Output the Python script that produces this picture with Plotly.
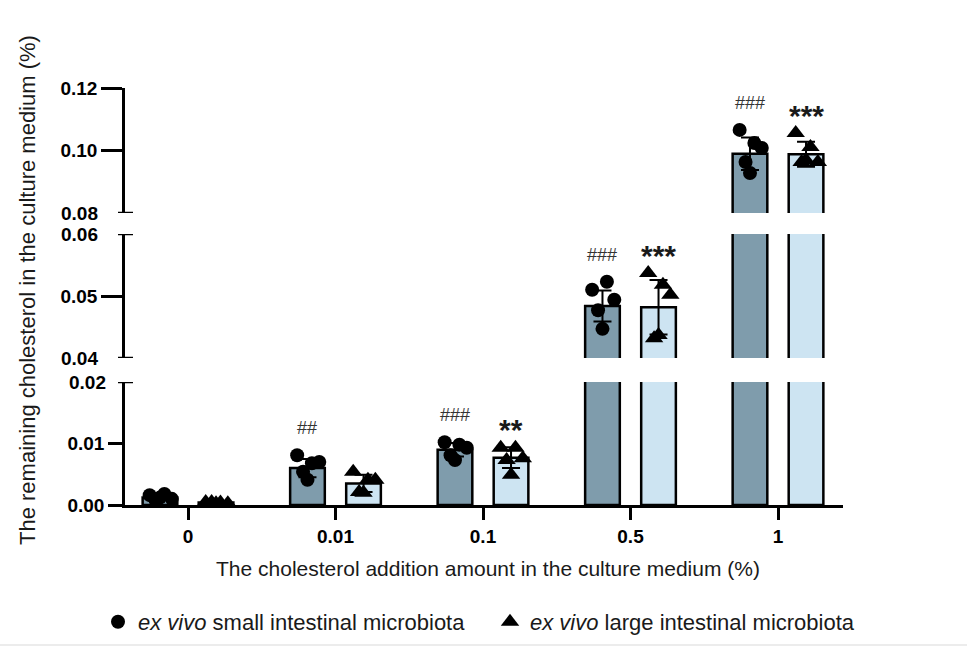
import numpy as np
import plotly.graph_objects as go

# ---------------- data ----------------
categories = ["0", "0.01", "0.1", "0.5", "1"]

small_mean = [0.0012, 0.0060, 0.0090, 0.0484, 0.0990]
small_sd = [0.0004, 0.0015, 0.0011, 0.0025, 0.0052]
large_mean = [0.0004, 0.0035, 0.0077, 0.0482, 0.0988]
large_sd = [0.0001, 0.0014, 0.0017, 0.0044, 0.0040]

small_points = [
    [0.0016, 0.0018, 0.0010, 0.0008, 0.0012],
    [0.0081, 0.0068, 0.0070, 0.0054, 0.0041],
    [0.0102, 0.0098, 0.0093, 0.0081, 0.0073],
    [0.0510, 0.0523, 0.0494, 0.0477, 0.0447],
    [0.1066, 0.1024, 0.1008, 0.0963, 0.0928],
]
large_points = [
    [0.0005, 0.0004, 0.0003, 0.0005, 0.0003],
    [0.0054, 0.0041, 0.0041, 0.0021, 0.0020],
    [0.0093, 0.0093, 0.0076, 0.0073, 0.0049],
    [0.0537, 0.0518, 0.0502, 0.0432, 0.0437],
    [0.1056, 0.1011, 0.0963, 0.0963, 0.0970],
]

small_sig = ["", "##", "###", "###", "###"]
large_sig = ["", "", "**", "***", "***"]

# broken y axis segments (bottom, middle, top)
seg_ranges = [[0.0, 0.02], [0.04, 0.06], [0.08, 0.12]]
seg_ticks = [[0.00, 0.01], [0.05], [0.10, 0.12]]
seg_tick_text = [["0.00", "0.01"], ["0.05"], ["0.10", "0.12"]]
cap_values = [0.02, 0.04, 0.06, 0.08]
cap_text = ["0.02", "0.04", "0.06", "0.08"]

small_name = "<i>ex vivo</i> small intestinal microbiota"
large_name = "<i>ex vivo</i> large intestinal microbiota"

# ---------------- styling ----------------
W, H = 967, 652
ML, MR, MT, MB = 125, 124, 88, 147
PW = W - ML - MR
PH = H - MT - MB
seg_px = [(382, 505), (234, 358), (88, 213)]  # pixel top/bottom of each segment
domains = [[(505 - b) / PH, (505 - t) / PH] for t, b in seg_px]

DARK = "#7f9cac"
LIGHT = "#cde4f2"
BAR_W = 0.235
OFF = 0.19
jitter = np.array([-0.07, 0.03, 0.08, -0.03, 0.0])
FONT = "Liberation Sans, Arial, sans-serif"

x_idx = np.arange(len(categories))

fig = go.Figure()

axis_names = ["y", "y2", "y3"]
for s, (lo, hi) in enumerate(seg_ranges):
    yref = axis_names[s]
    for means, sds, color, sign in [(small_mean, small_sd, DARK, -1), (large_mean, large_sd, LIGHT, 1)]:
        fig.add_trace(go.Bar(
            x=x_idx, y=means, yaxis=yref, xaxis="x",
            width=BAR_W, offset=sign * OFF - BAR_W / 2,
            marker=dict(color=color, line=dict(color="black", width=2.5)),
            error_y=dict(type="data", array=sds, visible=True, color="black", thickness=2, width=9),
            showlegend=False, hoverinfo="skip",
        ))
    for pts, sym, size, sign, name, lg in [(small_points, "circle", 14, -1, small_name, "s"),
                                           (large_points, "triangle-up", 16, 1, large_name, "l")]:
        xs, ys = [], []
        for i, row in enumerate(pts):
            for j, v in enumerate(row):
                if lo <= v <= hi:
                    xs.append(x_idx[i] + sign * OFF + jitter[j])
                    ys.append(v)
        fig.add_trace(go.Scatter(
            x=xs, y=ys, yaxis=yref, xaxis="x", mode="markers",
            marker=dict(symbol=sym, size=size, color="black", line=dict(width=0)),
            name=name, legendgroup=lg, showlegend=(s == 0),
            cliponaxis=False, hoverinfo="skip",
        ))

# significance labels
annotations = []
def seg_of(v):
    for s, (lo, hi) in enumerate(seg_ranges):
        if lo <= v <= hi:
            return s
    return 0

for i in range(len(categories)):
    for label, pts, sign, font in [(small_sig[i], small_points[i], -1, dict(size=18, color="#333333", family=FONT)),
                                   (large_sig[i], large_points[i], 1, dict(size=30, color="#1a1a1a", family=FONT, weight="bold"))]:
        if not label:
            continue
        top = max(pts)
        s = seg_of(top)
        annotations.append(dict(
            x=x_idx[i] + sign * OFF, y=top, xref="x", yref=axis_names[s],
            text=label, showarrow=False, yanchor="middle", xanchor="center",
            yshift=27 if sign < 0 else 18, font=font,
        ))

# cap labels for axis breaks
for v, t in zip(cap_values, cap_text):
    s = seg_of(v)
    xoff = -17 if v == 0.02 else -25
    annotations.append(dict(
        x=xoff / PW, y=v, xref="paper", yref=axis_names[s], text="<b>%s</b>" % t,
        showarrow=False, xanchor="right", yanchor="middle",
        font=dict(size=19, color="black", family=FONT),
    ))

# axis titles
annotations.append(dict(
    x=(27 - ML) / PW, y=(505 - 290) / PH, xref="paper", yref="paper",
    text="The remaining cholesterol in the culture medium (%)", textangle=-90,
    showarrow=False, xanchor="center", yanchor="middle",
    font=dict(size=22, color="#1a1a1a", family=FONT),
))
annotations.append(dict(
    x=(488 - ML) / PW, y=(505 - 568) / PH, xref="paper", yref="paper",
    text="The cholesterol addition amount in the culture medium (%)",
    showarrow=False, xanchor="center", yanchor="middle",
    font=dict(size=21, color="#1a1a1a", family=FONT),
))

# break caps
shapes = []
for v in cap_values:
    s = seg_of(v)
    shapes.append(dict(type="line", xref="paper", yref=axis_names[s],
                       x0=-7 / PW, x1=8 / PW, y0=v, y1=v,
                       line=dict(color="black", width=2.5)))
# faint separator at the bottom
shapes.append(dict(type="line", xref="paper", yref="paper", x0=-ML / PW, x1=(W - ML) / PW,
                   y0=(505 - 645) / PH, y1=(505 - 645) / PH,
                   line=dict(color="#e6e6e6", width=1.5)))

layout = dict(
    width=W, height=H,
    margin=dict(l=ML, r=MR, t=MT, b=MB, autoexpand=False),
    plot_bgcolor="white", paper_bgcolor="white",
    barmode="overlay",
    font=dict(family=FONT, color="black"),
    xaxis=dict(
        range=[-(188 - ML) / 147.5, -(188 - ML) / 147.5 + PW / 147.5],
        tickvals=list(x_idx), ticktext=categories,
        showline=True, linecolor="black", linewidth=2.5,
        ticks="outside", ticklen=12, tickwidth=2.5, tickcolor="black",
        tickfont=dict(size=19, family=FONT, color="black", weight="bold"),
        showgrid=False, zeroline=False, anchor="y", fixedrange=True, automargin=False,
    ),
    showlegend=True,
    legend=dict(
        orientation="h", x=(98 - ML) / PW, xanchor="left",
        y=(505 - 622) / PH, yanchor="middle",
        font=dict(size=22, family=FONT, color="#1a1a1a"),
        entrywidth=347, entrywidthmode="pixels",
        bgcolor="rgba(0,0,0,0)", borderwidth=0,
    ),
    annotations=annotations, shapes=shapes,
)

for s, name in enumerate(["yaxis", "yaxis2", "yaxis3"]):
    layout[name] = dict(
        domain=domains[s], range=seg_ranges[s],
        tickvals=seg_ticks[s], ticktext=seg_tick_text[s],
        showline=True, linecolor="black", linewidth=2.5,
        ticks="outside", ticklen=14 if s == 0 else 21, tickwidth=2.5, tickcolor="black",
        tickfont=dict(size=19, family=FONT, color="black", weight="bold"),
        showgrid=False, zeroline=False, anchor="x", fixedrange=True, automargin=False,
    )

fig.update_layout(**layout)
fig.write_html("out.html")
